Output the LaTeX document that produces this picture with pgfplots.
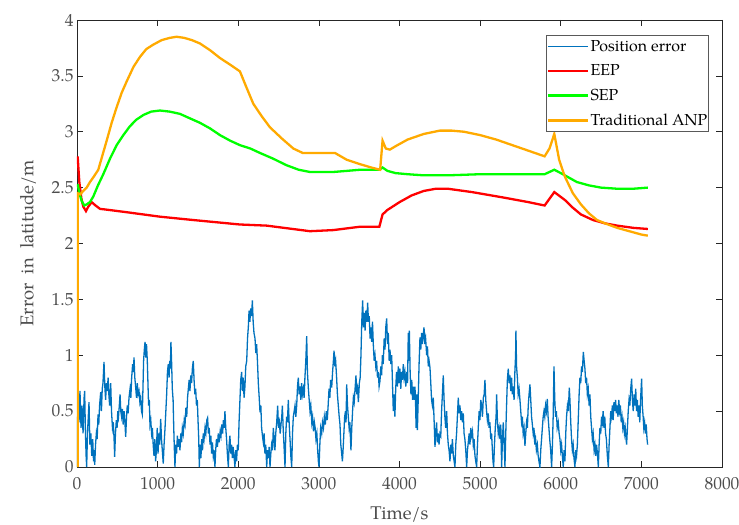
\documentclass[border=0pt]{standalone}
\usepackage{fontspec}
\setmainfont{TeX Gyre Pagella}
\usepackage{pgfplots}
\pgfplotsset{compat=1.18}
\definecolor{mblue}{RGB}{0,114,189}
\definecolor{mred}{RGB}{255,0,0}
\definecolor{mgreen}{RGB}{0,255,0}
\definecolor{morange}{RGB}{255,170,0}
\definecolor{axcol}{RGB}{38,38,38}
\definecolor{tickcol}{RGB}{77,77,77}
\begin{document}
\begin{tikzpicture}[font=\fontsize{16}{19}\selectfont]
\begin{axis}[
  scale only axis, width=645bp, height=447bp,
  at={(0,0)}, anchor=south west,
  xmin=0, xmax=8000, ymin=0, ymax=4,
  xtick={0,1000,...,8000}, ytick={0,0.5,...,4},
  /pgf/number format/assume math mode=true,
  /pgf/number format/1000 sep={},
  yticklabel style={/pgf/number format/fixed, /pgf/number format/precision=1},
  tick align=inside, major tick length=6bp,
  axis line style={axcol, line width=0.6bp},
  every tick/.style={axcol, line width=0.6bp},
  tick label style={tickcol, font=\fontsize{17.5}{20}\selectfont},
  xticklabel style={yshift=-7bp},
  xlabel={Time/s}, ylabel={Error\ \ in\ \ latitude/m},
  label style={tickcol, font=\fontsize{18.5}{21}\selectfont},
  xlabel style={at={(axis description cs:0.5,-0.107)}, anchor=center},
  ylabel style={at={(axis description cs:-0.076,0.5)}, anchor=center},
  legend cell align=left,
  legend style={at={(0.98,0.966)}, anchor=north east, draw=gray!70!black, line width=0.6bp,
    font=\fontsize{16}{19}\selectfont, text=black, row sep=9bp, inner xsep=0bp, inner ysep=3bp,
    nodes={inner sep=1.5bp}},
  legend image code/.code={\draw[#1] (0bp,0bp) -- (40bp,0bp);},
]
\addplot[mblue, line width=1.3bp] coordinates {
(0,0) (8,0.45) (17,0.6) (25,0.4) (37,0.68) (50,0.35) (62,0.55) (75,0.3) (88,0.62) (95,0.68) (105,0.3) (113,0.1) (120,0) (130,0.3) (140,0.45) (149,0.58) (160,0.2) (172,0.3) (183,0.1) (195,0.25) (205,0.05) (211,0.15) (220,0.02) (230,0.2) (240,0.3) (250,0.25) (261,0.47) (270,0.38) (280,0.55) (294,0.67) (303,0.5) (313,0.7) (322,0.75) (335,0.94) (345,0.72) (355,0.6) (365,0.75) (376,0.68) (386,0.8) (395,0.65) (405,0.55) (418,0.75) (428,0.5) (440,0.35) (450,0.4) (460,0.25) (467,0.09) (477,0.3) (488,0.42) (497,0.35) (506,0.5) (515,0.45) (525,0.55) (534,0.65) (543,0.5) (553,0.45) (563,0.52) (573,0.38) (584,0.5) (594,0.4) (604,0.27) (614,0.45) (624,0.55) (634,0.48) (645,0.62) (658,0.7) (668,0.62) (678,0.8) (690,0.92) (700,0.85) (707,0.98) (717,0.8) (727,0.72) (738,0.62) (748,0.75) (758,0.65) (769,0.68) (780,0.58) (790,0.62) (800,0.5) (810,0.47) (818,0.7) (826,0.95) (835,1.05) (844,1.12) (853,0.98) (862,1.1) (872,0.95) (880,0.75) (888,0.55) (897,0.6) (905,0.38) (915,0.42) (925,0.3) (935,0.35) (945,0.2) (955,0.1) (965,0.25) (975,0.05) (985,0.15) (995,0.35) (1005,0.12) (1015,0.3) (1025,0.2) (1038,0.43) (1048,0.25) (1058,0.15) (1070,0.03) (1080,0.2) (1092,0.35) (1102,0.5) (1112,0.65) (1122,0.85) (1132,0.92) (1142,0.8) (1150,0.95) (1158,0.88) (1165,1.12) (1173,0.95) (1182,0.7) (1192,0.6) (1200,0.35) (1208,0.15) (1215,0) (1225,0.2) (1235,0.12) (1245,0.28) (1255,0.18) (1265,0.25) (1277,0.15) (1287,0.3) (1297,0.22) (1307,0.35) (1318,0.3) (1330,0.42) (1340,0.38) (1351,0.53) (1361,0.45) (1371,0.62) (1381,0.7) (1391,0.78) (1401,0.68) (1411,0.82) (1421,0.75) (1431,0.88) (1442,0.95) (1452,0.78) (1462,0.65) (1472,0.7) (1482,0.55) (1492,0.6) (1502,0.4) (1510,0.25) (1517,0) (1527,0.2) (1537,0.08) (1547,0.25) (1557,0.15) (1566,0.3) (1576,0.25) (1588,0.35) (1598,0.3) (1610,0.42) (1620,0.44) (1630,0.3) (1640,0.35) (1650,0.2) (1660,0.28) (1670,0.12) (1680,0.22) (1690,0.1) (1700,0.15) (1711,0) (1720,0.15) (1730,0.25) (1742,0.18) (1752,0.3) (1764,0.22) (1776,0.32) (1786,0.28) (1796,0.38) (1806,0.3) (1816,0.42) (1826,0.35) (1835,0.5) (1845,0.35) (1855,0.25) (1865,0.12) (1877,0) (1887,0.2) (1897,0.28) (1907,0.12) (1917,0.2) (1927,0.08) (1937,0.18) (1947,0.1) (1959,0) (1969,0.15) (1979,0.05) (1990,0.2) (2000,0.15) (2010,0.4) (2021,0.6) (2031,0.78) (2042,0.85) (2052,0.68) (2062,0.8) (2072,0.62) (2083,0.72) (2093,0.9) (2105,0.95) (2115,1.15) (2125,1.25) (2134,1.4) (2144,1.3) (2155,1.42) (2165,1.35) (2175,1.49) (2185,1.3) (2195,1.2) (2208,1.15) (2218,1.02) (2228,1.1) (2238,0.95) (2249,0.75) (2260,0.62) (2270,0.49) (2280,0.55) (2290,0.35) (2300,0.28) (2311,0.22) (2321,0.3) (2331,0.12) (2341,0.2) (2353,0) (2363,0.15) (2373,0.08) (2383,0.18) (2394,0) (2404,0.12) (2414,0.2) (2425,0.15) (2435,0.35) (2445,0.25) (2455,0.15) (2465,0.3) (2477,0.4) (2489,0.55) (2499,0.35) (2510,0.4) (2520,0.3) (2530,0.38) (2540,0.45) (2547,0.55) (2557,0.35) (2567,0.2) (2580,0) (2590,0.3) (2600,0.45) (2610,0.4) (2621,0.6) (2631,0.4) (2642,0.25) (2652,0.1) (2663,0) (2673,0.3) (2683,0.45) (2694,0.5) (2704,0.55) (2714,0.45) (2725,0.55) (2735,0.72) (2745,0.8) (2755,0.65) (2765,0.72) (2776,0.6) (2786,0.75) (2796,0.65) (2807,0.7) (2817,0.62) (2827,0.8) (2838,0.95) (2849,1.17) (2858,0.85) (2870,0.7) (2880,0.6) (2890,0.5) (2900,0.55) (2912,0.4) (2922,0.45) (2933,0.32) (2944,0.4) (2954,0.35) (2964,0.25) (2975,0.3) (2985,0.15) (2994,0.05) (3002,0) (3012,0.2) (3022,0.35) (3035,0.3) (3045,0.4) (3057,0.35) (3068,0.45) (3080,0.38) (3092,0.5) (3104,0.42) (3115,0.55) (3126,0.7) (3136,0.62) (3146,0.78) (3159,0.71) (3170,0.85) (3180,0.95) (3188,1.04) (3198,0.9) (3208,0.95) (3220,0.8) (3230,0.65) (3241,0.55) (3252,0.45) (3262,0.38) (3272,0.2) (3283,0.12) (3292,0.05) (3300,0.15) (3310,0.3) (3320,0.45) (3330,0.5) (3337,0.4) (3345,0.74) (3355,0.55) (3365,0.45) (3375,0.35) (3385,0.4) (3392,0.25) (3398,0.15) (3408,0.35) (3418,0.5) (3428,0.62) (3438,0.58) (3449,0.7) (3460,0.82) (3470,0.65) (3480,0.7) (3490,0.58) (3502,0.75) (3512,0.8) (3522,1.0) (3532,1.3) (3543,1.49) (3553,1.25) (3563,1.38) (3573,1.22) (3583,1.4) (3595,1.3) (3605,1.47) (3615,1.3) (3625,1.35) (3635,1.15) (3645,1.25) (3655,1.12) (3665,1.3) (3675,1.1) (3686,0.95) (3696,1.0) (3706,0.9) (3716,0.95) (3727,0.8) (3737,0.85) (3747,0.72) (3758,0.77) (3768,0.9) (3778,0.82) (3788,1.0) (3798,0.92) (3810,1.15) (3820,1.05) (3830,1.25) (3841,1.33) (3851,1.1) (3861,1.2) (3872,0.95) (3882,1.05) (3893,0.92) (3903,1.0) (3913,0.75) (3923,0.5) (3933,0.65) (3943,0.45) (3953,0.7) (3963,0.85) (3975,0.72) (3985,0.9) (3995,0.75) (4005,0.88) (4016,0.7) (4026,0.85) (4036,0.78) (4047,0.92) (4057,0.8) (4067,0.85) (4078,0.72) (4090,0.85) (4100,0.75) (4109,1.2) (4115,0.95) (4122,1.22) (4132,0.85) (4142,0.65) (4152,0.78) (4162,0.6) (4172,0.72) (4182,0.6) (4192,0.72) (4200,0.55) (4206,0.35) (4213,0.65) (4222,0.33) (4232,0.6) (4242,0.9) (4254,1.16) (4264,1.05) (4274,1.2) (4284,1.1) (4294,1.18) (4304,1.25) (4314,1.1) (4324,1.15) (4337,1.0) (4347,1.08) (4357,0.9) (4367,0.95) (4378,0.89) (4388,0.75) (4398,0.6) (4408,0.55) (4419,0.62) (4430,0.4) (4440,0.18) (4450,0.3) (4460,0.4) (4470,0.22) (4480,0.3) (4490,0.2) (4502,0.3) (4512,0.28) (4522,0.5) (4532,0.65) (4543,0.82) (4553,0.6) (4563,0.45) (4573,0.35) (4585,0.5) (4595,0.3) (4605,0.2) (4615,0.15) (4626,0.05) (4636,0.2) (4646,0.12) (4656,0.25) (4668,0.1) (4678,0.05) (4688,0) (4698,0.2) (4708,0.3) (4718,0.45) (4729,0.62) (4739,0.48) (4750,0.55) (4760,0.42) (4770,0.5) (4781,0.4) (4791,0.48) (4801,0.3) (4811,0.25) (4822,0.15) (4833,0) (4843,0.15) (4853,0.22) (4864,0.3) (4874,0.2) (4884,0.35) (4895,0.28) (4905,0.32) (4915,0.2) (4925,0.25) (4936,0.1) (4946,0.05) (4957,0) (4967,0.2) (4977,0.35) (4988,0.5) (4998,0.42) (5008,0.6) (5019,0.55) (5029,0.45) (5040,0.62) (5050,0.65) (5060,0.78) (5070,0.6) (5080,0.5) (5090,0.42) (5101,0.48) (5111,0.35) (5121,0.4) (5132,0.25) (5142,0.3) (5152,0.15) (5160,0.05) (5168,0) (5178,0.2) (5188,0.35) (5198,0.45) (5205,0.65) (5215,0.4) (5225,0.3) (5235,0.35) (5246,0.25) (5256,0.38) (5267,0) (5277,0.25) (5287,0.4) (5298,0.2) (5308,0) (5318,0.3) (5328,0.55) (5338,0.78) (5349,0.88) (5360,0.75) (5370,0.82) (5380,0.68) (5390,0.8) (5400,0.65) (5411,0.72) (5421,0.6) (5431,0.85) (5440,1.0) (5444,1.22) (5452,0.9) (5462,0.8) (5472,0.65) (5483,0.7) (5494,0.6) (5504,0.5) (5514,0.4) (5524,0.45) (5534,0.3) (5545,0.35) (5556,0.19) (5566,0.3) (5576,0.4) (5586,0.35) (5597,0.55) (5607,0.65) (5618,0.74) (5628,0.6) (5638,0.45) (5648,0.38) (5658,0.3) (5668,0.35) (5678,0.2) (5688,0.25) (5698,0.15) (5710,0.2) (5720,0.1) (5730,0.05) (5742,0) (5752,0.15) (5762,0.25) (5772,0.35) (5782,0.45) (5792,0.5) (5802,0.45) (5812,0.55) (5822,0.5) (5833,0.61) (5843,0.45) (5853,0.35) (5863,0.25) (5875,0.15) (5887,0) (5897,0.2) (5906,0.45) (5916,0.9) (5926,0.6) (5936,0.45) (5946,0.5) (5956,0.35) (5969,0.4) (5980,0.3) (5990,0.25) (6000,0.15) (6010,0.2) (6020,0.1) (6031,0) (6041,0.15) (6052,0.05) (6062,0.3) (6072,0.45) (6083,0.55) (6094,0.5) (6106,0.71) (6114,0.6) (6124,0.4) (6134,0.25) (6144,0.15) (6154,0.2) (6164,0.08) (6176,0) (6186,0.15) (6196,0.1) (6206,0.2) (6216,0.4) (6228,0.65) (6238,0.8) (6248,0.75) (6258,0.9) (6268,0.85) (6280,1.03) (6290,0.95) (6300,0.88) (6310,0.75) (6320,0.8) (6330,0.65) (6341,0.7) (6352,0.55) (6362,0.65) (6372,0.45) (6382,0.35) (6392,0.25) (6402,0.3) (6414,0.15) (6424,0.2) (6434,0.1) (6444,0.2) (6455,0.12) (6466,0) (6476,0.2) (6486,0.35) (6496,0.3) (6506,0.45) (6516,0.4) (6526,0.5) (6536,0.35) (6546,0.45) (6556,0.3) (6566,0.25) (6578,0.1) (6590,0) (6600,0.2) (6610,0.35) (6620,0.5) (6630,0.45) (6640,0.55) (6650,0.42) (6660,0.58) (6670,0.5) (6680,0.6) (6690,0.48) (6700,0.55) (6710,0.45) (6720,0.6) (6730,0.5) (6740,0.55) (6750,0.4) (6760,0.45) (6770,0.35) (6780,0.4) (6790,0.3) (6800,0.35) (6810,0.25) (6817,0.2) (6827,0.35) (6837,0.5) (6847,0.6) (6857,0.55) (6868,0.7) (6879,0.79) (6889,0.6) (6899,0.5) (6910,0.65) (6920,0.55) (6930,0.7) (6940,0.5) (6950,0.6) (6960,0.45) (6970,0.55) (6980,0.4) (6990,0.6) (7003,0.79) (7012,0.55) (7022,0.45) (7030,0.35) (7040,0.4) (7050,0.3) (7060,0.38) (7070,0.25) (7078,0.2)
};
\addlegendentry{Position error}
\addplot[mred, line width=2.3bp] coordinates {
(8,2.78) (29,2.55) (55,2.4) (78,2.33) (111,2.29) (140,2.33) (182,2.37) (230,2.34) (285,2.31) (400,2.3) (616,2.28) (1029,2.24) (1442,2.21) (2021,2.17) (2352,2.16) (2890,2.11) (3179,2.12) (3400,2.14) (3510,2.15) (3750,2.15) (3790,2.26) (3850,2.3) (4000,2.37) (4150,2.43) (4300,2.47) (4450,2.49) (4600,2.49) (4900,2.46) (5300,2.41) (5600,2.37) (5800,2.34) (5920,2.46) (6050,2.39) (6150,2.32) (6250,2.26) (6400,2.21) (6550,2.18) (6700,2.16) (6900,2.14) (7080,2.13)
};
\addlegendentry{EEP}
\addplot[mgreen, line width=2.3bp] coordinates {
(8,2.53) (30,2.45) (58,2.38) (90,2.34) (120,2.35) (160,2.37) (202,2.42) (260,2.52) (326,2.62) (410,2.76) (492,2.88) (575,2.97) (657,3.05) (740,3.11) (823,3.15) (920,3.18) (1029,3.19) (1150,3.18) (1277,3.16) (1400,3.12) (1525,3.08) (1650,3.03) (1773,2.97) (1900,2.92) (2021,2.88) (2150,2.85) (2270,2.81) (2430,2.76) (2600,2.7) (2750,2.66) (2890,2.64) (3179,2.64) (3350,2.65) (3510,2.66) (3750,2.66) (3790,2.68) (3850,2.65) (3950,2.63) (4100,2.62) (4300,2.61) (4600,2.61) (5000,2.62) (5400,2.62) (5800,2.62) (5920,2.66) (6000,2.63) (6100,2.59) (6200,2.55) (6350,2.52) (6500,2.5) (6700,2.49) (6900,2.49) (7080,2.5)
};
\addlegendentry{SEP}
\addplot[morange, line width=2.3bp] coordinates {
(10,0) (10,2.45) (40,2.44) (78,2.47) (120,2.5) (161,2.55) (210,2.6) (264,2.66) (320,2.8) (368,2.92) (430,3.08) (492,3.22) (555,3.35) (616,3.45) (700,3.58) (781,3.67) (860,3.74) (947,3.78) (1050,3.82) (1150,3.84) (1236,3.85) (1330,3.84) (1425,3.82) (1525,3.79) (1650,3.73) (1773,3.66) (1900,3.6) (2021,3.54) (2100,3.4) (2187,3.25) (2290,3.14) (2393,3.04) (2540,2.94) (2683,2.85) (2800,2.81) (2890,2.81) (3200,2.81) (3344,2.75) (3510,2.71) (3650,2.68) (3760,2.66) (3790,2.92) (3830,2.85) (3880,2.84) (3950,2.87) (4100,2.93) (4300,2.98) (4500,3.01) (4650,3.01) (4800,3.0) (5000,2.97) (5200,2.93) (5400,2.88) (5600,2.83) (5800,2.78) (5860,2.85) (5920,2.98) (5980,2.75) (6050,2.6) (6150,2.45) (6250,2.35) (6350,2.27) (6450,2.21) (6550,2.18) (6700,2.14) (6850,2.11) (7000,2.08) (7080,2.07)
};
\addlegendentry{Traditional ANP}
\end{axis}
\pgfresetboundingbox
\path[use as bounding box] (-77bp,-58bp) rectangle (662bp,467bp);
\end{tikzpicture}
\end{document}
